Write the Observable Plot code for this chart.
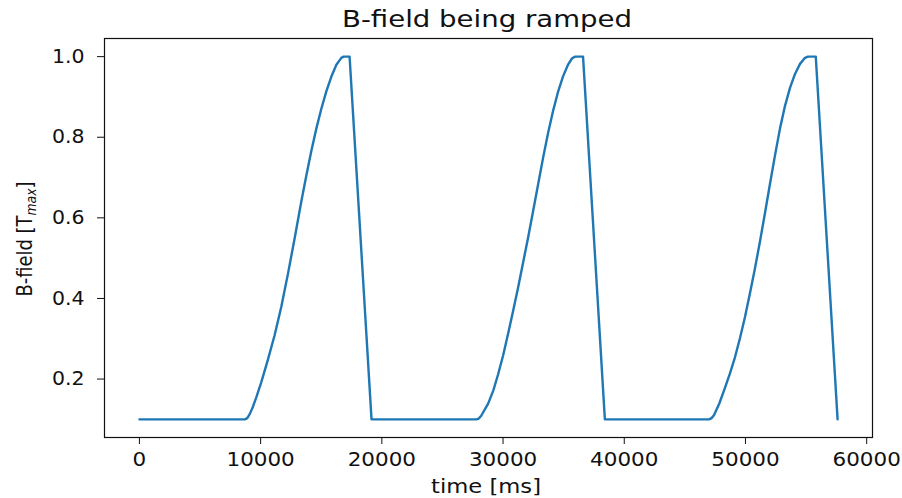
<!DOCTYPE html>
<html>
<head>
<meta charset="utf-8">
<script src="https://cdn.jsdelivr.net/npm/d3@7"></script>
<script src="https://cdn.jsdelivr.net/npm/@observablehq/plot@0.6"></script>
<style>
  html, body { margin: 0; padding: 0; background: #fff; }
  #chart svg { display: block; }
</style>
</head>
<body>
<div id="chart"></div>
<script>
// ---- data ----
const timeMs = [
  0, 8700, 8900, 9100, 9350, 9650, 10050, 10603, 11148, 11701, 12254, 12800, 13353, 13760, 14178, 14600, 15004, 15420, 15830, 16250, 16656, 16850, 17340, 19150,
  27800, 28000, 28200, 28770, 29200, 29595, 30000, 30421, 30830, 31247, 31660, 32073, 32490, 32899, 33310, 33724, 34150, 34550, 34950, 35376, 35700, 35950, 36600, 38400,
  47000, 47200, 47400, 47850, 48307, 48720, 49133, 49550, 49959, 50370, 50785, 51200, 51610, 52020, 52436, 52850, 53262, 53680, 54088, 54500, 54914, 55150, 55800, 57600
];
const bField = [
  0.100, 0.100, 0.103, 0.113, 0.130, 0.155, 0.192, 0.248, 0.308, 0.379, 0.461, 0.548, 0.640, 0.703, 0.765, 0.822, 0.870, 0.914, 0.950, 0.980, 0.997, 1.000, 1.000, 0.100,
  0.100, 0.102, 0.109, 0.139, 0.172, 0.212, 0.258, 0.313, 0.369, 0.428, 0.490, 0.552, 0.618, 0.684, 0.750, 0.812, 0.868, 0.914, 0.951, 0.981, 0.996, 1.000, 1.000, 0.100,
  0.100, 0.103, 0.110, 0.140, 0.178, 0.214, 0.254, 0.302, 0.354, 0.413, 0.475, 0.542, 0.612, 0.684, 0.755, 0.822, 0.878, 0.923, 0.957, 0.982, 0.997, 1.000, 1.000, 0.100
];
const xTicks = [0, 10000, 20000, 30000, 40000, 50000, 60000];
const yTicks = [0.2, 0.4, 0.6, 0.8, 1.0];
const titleText = "B-field being ramped";
const xLabelText = "time [ms]";
const yLabelMain = "B-field [T";
const yLabelSub = "max";
const yLabelEnd = "]";

const data = timeMs.map((t, i) => ({ t, b: bField[i] }));

const W = 902, H = 498, mL = 104, mR = 30, mT = 38, mB = 61;

const chart = Plot.plot({
  width: W,
  height: H,
  marginLeft: mL,
  marginRight: mR,
  marginTop: mT,
  marginBottom: mB,
  style: { fontFamily: "'DejaVu Sans', sans-serif", fontSize: "19.5px", color: "#111", background: "#fff", overflow: "visible" },
  x: { domain: [-2880, 60480], ticks: xTicks, tickFormat: d3.format("d"), tickSize: 7, tickPadding: 8, label: null },
  y: { domain: [0.055, 1.045], ticks: yTicks, tickFormat: d3.format(".1f"), tickSize: 7, tickPadding: 13, label: null },
  marks: [
    Plot.line(data, { x: "t", y: "b", stroke: "#1f77b4", strokeWidth: 2.4, strokeLinejoin: "round" }),
    Plot.frame({ stroke: "#111", strokeWidth: 1.2 })
  ]
});

document.getElementById("chart").appendChild(chart);
const svg = d3.select(chart);

// widen axis tick labels slightly (reference is horizontally stretched)
svg.selectAll('g[aria-label="x-axis tick label"] text').each(function () {
  const len = this.getComputedTextLength();
  this.setAttribute("textLength", (len * 1.1).toFixed(1));
  this.setAttribute("lengthAdjust", "spacingAndGlyphs");
});
svg.selectAll('g[aria-label="y-axis tick label"] text').each(function () {
  const len = this.getComputedTextLength();
  this.setAttribute("textLength", (len * 1.05).toFixed(1));
  this.setAttribute("lengthAdjust", "spacingAndGlyphs");
});

const cx = (mL + (W - mR)) / 2;

// title
svg.append("text")
  .attr("x", cx - 1)
  .attr("y", 26.5)
  .attr("text-anchor", "middle")
  .attr("font-family", "'DejaVu Sans', sans-serif")
  .attr("font-size", 22.5)
  .attr("fill", "#111")
  .attr("textLength", 290)
  .attr("lengthAdjust", "spacingAndGlyphs")
  .text(titleText);

// x label
svg.append("text")
  .attr("x", cx - 2)
  .attr("y", 493)
  .attr("text-anchor", "middle")
  .attr("font-family", "'DejaVu Sans', sans-serif")
  .attr("font-size", 19.5)
  .attr("fill", "#111")
  .attr("textLength", 110)
  .attr("lengthAdjust", "spacingAndGlyphs")
  .text(xLabelText);

// y label (rotated, with subscript)
const yl = svg.append("text")
  .attr("transform", `translate(31.5, ${(mT + (H - mB)) / 2 + 1.5}) rotate(-90)`)
  .attr("text-anchor", "middle")
  .attr("font-family", "'DejaVu Sans Condensed', 'DejaVu Sans', sans-serif")
  .attr("font-size", 21)
  .attr("fill", "#111")
  .attr("textLength", 115)
  .attr("lengthAdjust", "spacingAndGlyphs");
yl.append("tspan").text(yLabelMain);
yl.append("tspan").attr("font-size", 14.5).attr("font-style", "italic").attr("dy", 4).text(yLabelSub);
yl.append("tspan").attr("dy", -4).text(yLabelEnd);
</script>
</body>
</html>
